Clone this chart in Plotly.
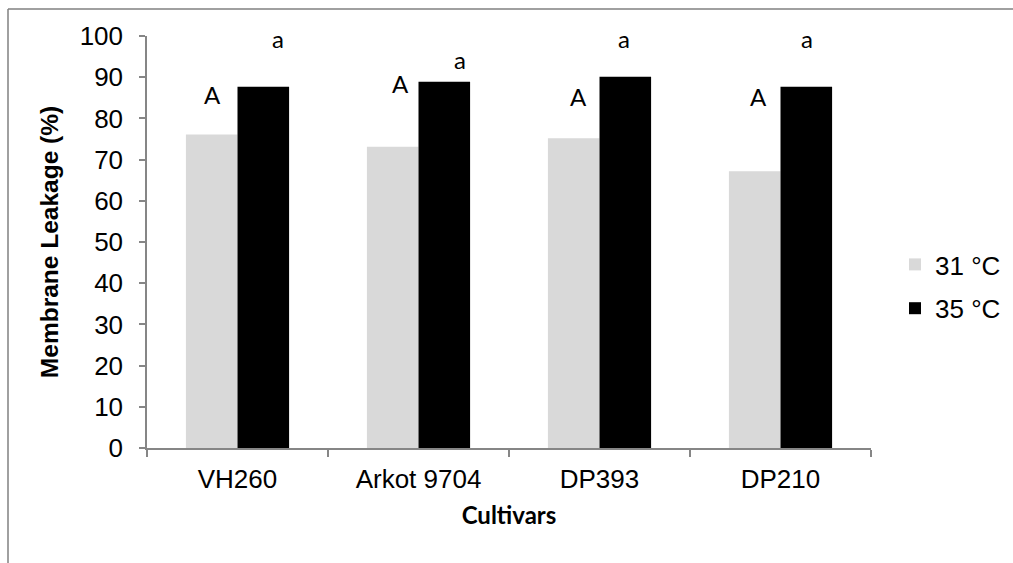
import plotly.graph_objects as go

cultivars = ["VH260", "Arkot 9704", "DP393", "DP210"]
series_names = ["31 °C", "35 °C"]
leak_31 = [76.1, 73.1, 75.2, 67.2]
leak_35 = [87.7, 88.9, 90.1, 87.7]
letters_31 = ["A", "A", "A", "A"]
letters_35 = ["a", "a", "a", "a"]
y_ticks = [0, 10, 20, 30, 40, 50, 60, 70, 80, 90, 100]

# label placement (style, not data)
letter31_y = [85.9, 88.5, 85.4, 85.4]
letter31_dx = [-25, -18, -21, -22]
letter35_y = [99.4, 94.3, 99.4, 99.4]
letter35_dx = [40, 41, 24, 26]

W, H = 1013, 563
ML, MR, MT, MB = 147, 142, 36, 115
PW, PH = W - ML - MR, H - MT - MB

fig = go.Figure()
fig.add_trace(go.Bar(x=cultivars, y=leak_31, name=series_names[0],
                     marker=dict(color="#d9d9d9", line=dict(width=0)),
                     legendgroup="g1"))
fig.add_trace(go.Bar(x=cultivars, y=leak_35, name=series_names[1],
                     marker=dict(color="#000000", line=dict(width=0)),
                     legendgroup="g2"))

annotations = []
for i, c in enumerate(cultivars):
    annotations.append(dict(x=c, y=letter31_y[i], xref="x", yref="y", text=letters_31[i],
                            showarrow=False, xshift=letter31_dx[i],
                            font=dict(family="Lato", size=24, color="#000")))
    annotations.append(dict(x=c, y=letter35_y[i], xref="x", yref="y", text=letters_35[i],
                            showarrow=False, xshift=letter35_dx[i],
                            font=dict(family="Lato", size=24, color="#000")))

frame_x = (8 - ML) / PW
frame_top = (H - MB - 9) / PH
shapes = [
    dict(type="line", xref="paper", yref="paper", x0=frame_x, x1=frame_x,
         y0=-0.4, y1=frame_top, line=dict(color="#808080", width=1.5), layer="above"),
    dict(type="line", xref="paper", yref="paper", x0=frame_x, x1=1.2,
         y0=frame_top, y1=frame_top, line=dict(color="#808080", width=1.5), layer="above"),
]

fig.update_layout(
    width=W, height=H,
    margin=dict(l=ML, r=MR, t=MT, b=MB, pad=0, autoexpand=False),
    paper_bgcolor="white", plot_bgcolor="white",
    barmode="group", bargap=0.43, bargroupgap=0,
    font=dict(family="Liberation Sans, Arial", size=26, color="#000"),
    showlegend=True,
    legend=dict(x=(895 - ML) / PW, xanchor="left", y=(H - MB - 286.5) / PH, yanchor="middle",
                font=dict(family="Liberation Sans, Arial", size=26, color="#000"),
                tracegroupgap=7, traceorder="grouped", bgcolor="rgba(0,0,0,0)"),
    annotations=annotations,
    shapes=shapes,
)
fig.update_xaxes(
    showline=True, linecolor="#868686", linewidth=1.5,
    ticks="outside", tickson="boundaries", ticklen=7, tickcolor="#868686", tickwidth=1.5,
    showgrid=False, zeroline=False, ticklabelstandoff=7,
    tickfont=dict(family="Liberation Sans, Arial", size=26),
    title=dict(text="<b>Cultivars</b>", font=dict(family="Lato", size=24), standoff=14),
)
fig.update_yaxes(
    range=[0, 100], tickvals=y_ticks,
    showline=True, linecolor="#868686", linewidth=1.5,
    ticks="outside", ticklen=6, tickcolor="#868686", tickwidth=1.5,
    showgrid=False, zeroline=False, ticklabelstandoff=11,
    tickfont=dict(family="Liberation Sans, Arial", size=26),
    title=dict(text="<b>Membrane Leakage (%)</b>",
               font=dict(family="Liberation Sans, Arial", size=24.5), standoff=14),
)

fig.write_html("out.html", config={"displayModeBar": False})
